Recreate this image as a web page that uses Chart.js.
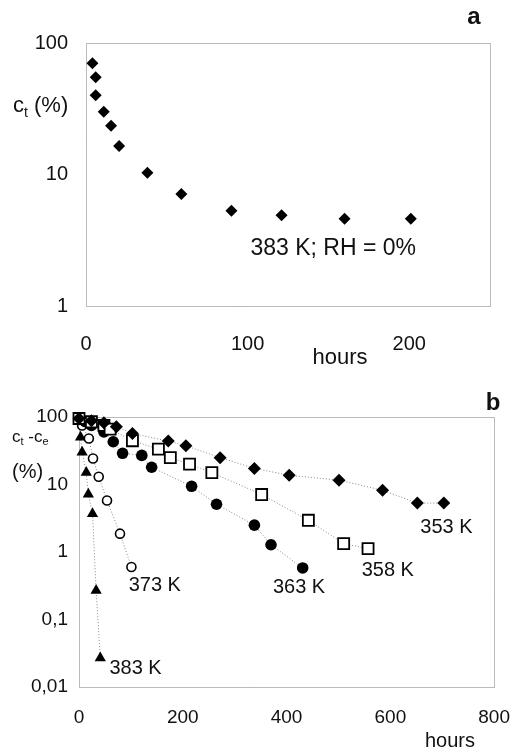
<!DOCTYPE html>
<html>
<head>
<meta charset="utf-8">
<script src="https://cdn.jsdelivr.net/npm/chart.js@4/dist/chart.umd.min.js"></script>
<style>
  html, body { margin: 0; padding: 0; background: #fff; }
  #wrap { width: 529px; height: 750px; position: relative; }
  canvas { display: block; }
</style>
</head>
<body>
<div id="wrap">
  <canvas id="chartA" width="529" height="375"></canvas>
  <canvas id="chartB" width="529" height="375"></canvas>
</div>
<script>
// panel a: 383 K, RH = 0%
const hoursA = [4, 6, 6, 11, 15.5, 20.5, 38, 59, 90, 121, 160, 201];
const ctA = [70, 55, 40, 30, 23.5, 16.5, 10.3, 7.1, 5.3, 4.9, 4.6, 4.6];
const xTicksA = [0, 100, 200];
const yTicksA = [1, 10, 100];

// panel b: ct - ce at several temperatures
const h353 = [0, 24, 48, 72, 103, 172, 206, 272, 338, 405, 501, 585, 652, 703];
const c353 = [95, 88, 82, 72, 57, 44, 37.5, 25, 17.3, 13.7, 11.6, 8.2, 5.3, 5.3];
const h358 = [0, 24, 48, 60, 103, 153, 176, 213, 256, 352, 442, 510, 557];
const c358 = [95, 85, 75, 66, 44.5, 33.5, 25, 20, 15, 7.1, 2.95, 1.33, 1.12];
const h363 = [0, 12, 24, 48, 66, 84, 121, 140, 217, 265, 338, 370, 431];
const c363 = [92, 85, 75, 60, 43, 29, 27, 18, 9.4, 5.1, 2.5, 1.28, 0.58];
const h373 = [0, 6, 19, 27, 38, 54, 79, 101];
const c373 = [95, 75, 48, 24.3, 13, 5.8, 1.87, 0.6];
const h383 = [0, 3, 6, 14, 18, 26, 33, 41];
const c383 = [92, 50, 30, 15, 7.2, 3.7, 0.27, 0.027];
const xTicksB = [0, 200, 400, 600, 800];
const yTicksB = [0.01, 0.1, 1, 10, 100];

const FONT = '"Liberation Sans", Arial, sans-serif';
const INK = '#111';

function pts(xs, ys) {
  return xs.map((x, i) => ({ x: x, y: ys[i] }));
}

function fmt(v) {
  return String(v).replace('.', ',');
}

// dotted box round the plot area
const frame = {
  id: 'frame',
  beforeDatasetsDraw(chart) {
    const { ctx, chartArea: a } = chart;
    ctx.save();
    ctx.strokeStyle = '#777';
    ctx.lineWidth = 1;
    ctx.setLineDash([1, 1]);
    ctx.strokeRect(Math.round(a.left) + 0.5, Math.round(a.top) + 0.5, Math.round(a.width), Math.round(a.height));
    ctx.restore();
  }
};

// text with subscripts, parts = [[text, isSub], ...]
function drawRich(ctx, x, y, parts, size) {
  let cx = x;
  parts.forEach(([t, sub]) => {
    const s = sub ? Math.round(size * 0.62) : size;
    ctx.font = s + 'px ' + FONT;
    ctx.fillText(t, cx, sub ? y + size * 0.32 : y);
    cx += ctx.measureText(t).width;
  });
}

// free labels: data ones go through the scales, others sit on the canvas
function notes(list) {
  return {
    id: 'notes',
    afterDraw(chart) {
      const { ctx, scales } = chart;
      ctx.save();
      ctx.fillStyle = INK;
      ctx.textBaseline = 'middle';
      list.forEach(n => {
        if (n.rich) {
          ctx.textAlign = 'left';
          drawRich(ctx, n.px, n.py, n.rich, n.size);
          return;
        }
        ctx.font = (n.bold ? 'bold ' : '') + n.size + 'px ' + FONT;
        ctx.textAlign = 'center';
        const x = n.px !== undefined ? n.px : scales.x.getPixelForValue(n.x);
        const y = n.py !== undefined ? n.py : scales.y.getPixelForValue(n.y);
        ctx.fillText(n.text, x, y);
      });
      ctx.restore();
    }
  };
}

function axes(xMin, xMax, xTicks, yMin, yMax, yTicks, box) {
  return {
    x: {
      type: 'linear',
      min: xMin,
      max: xMax,
      grid: { display: false, drawTicks: false },
      border: { display: false },
      afterBuildTicks: s => { s.ticks = xTicks.map(v => ({ value: v })); },
      afterFit: s => { s.height = box.xh; },
      ticks: { color: INK, padding: box.xpad, font: { family: FONT, size: box.fs }, maxRotation: 0 }
    },
    y: {
      type: 'logarithmic',
      min: yMin,
      max: yMax,
      grid: { display: false, drawTicks: false },
      border: { display: false },
      afterBuildTicks: s => { s.ticks = yTicks.map(v => ({ value: v })); },
      afterFit: s => { s.width = box.yw; },
      ticks: { color: INK, padding: box.ypad, font: { family: FONT, size: box.fs }, callback: v => fmt(v) }
    }
  };
}

Chart.defaults.animation = false;

new Chart(document.getElementById('chartA'), {
  type: 'scatter',
  data: {
    datasets: [{
      label: '383 K',
      data: pts(hoursA, ctA),
      pointStyle: 'rectRot',
      pointRadius: 6,
      backgroundColor: '#000',
      borderColor: '#000',
      borderWidth: 0,
      clip: false
    }]
  },
  options: {
    responsive: false,
    layout: { padding: { top: 43, right: 39, bottom: 0, left: 0 } },
    plugins: { legend: { display: false }, tooltip: { enabled: false } },
    scales: axes(0, 250, xTicksA, 1, 100, yTicksA, { xh: 69, yw: 86, xpad: 26, ypad: 18, fs: 20 })
  },
  plugins: [frame, notes([
    { text: '383 K; RH = 0%', x: 153, y: 2.72, size: 23 },
    { text: 'hours', px: 340, py: 358, size: 22 },
    { text: 'a', px: 474, py: 17, size: 24, bold: true },
    { rich: [['c', false], ['t', true], [' (%)', false]], px: 13, py: 106, size: 22 }
  ])]
});

const line = { showLine: true, borderColor: '#888', borderWidth: 1, borderDash: [1, 2], clip: false };
const mark = (style, r, fill, bw) => ({
  pointStyle: style,
  pointRadius: r,
  pointBackgroundColor: fill,
  pointBorderColor: '#000',
  pointBorderWidth: bw
});

new Chart(document.getElementById('chartB'), {
  type: 'scatter',
  data: {
    datasets: [
      { label: '353 K', data: pts(h353, c353), ...line, ...mark('rectRot', 6.5, '#000', 0) },
      { label: '358 K', data: pts(h358, c358), ...line, ...mark('rect', 7.8, '#fff', 1.8) },
      { label: '363 K', data: pts(h363, c363), ...line, ...mark('circle', 5.8, '#000', 0) },
      { label: '373 K', data: pts(h373, c373), ...line, ...mark('circle', 4.5, '#fff', 1.6) },
      { label: '383 K', data: pts(h383, c383), ...line, ...mark('triangle', 6.5, '#000', 0) }
    ]
  },
  options: {
    responsive: false,
    layout: { padding: { top: 42, right: 27, bottom: 0, left: 0 } },
    plugins: { legend: { display: false }, tooltip: { enabled: false } },
    scales: axes(0, 800, xTicksB, 0.01, 100, yTicksB, { xh: 63, yw: 79, xpad: 19, ypad: 11, fs: 19 })
  },
  plugins: [frame, notes([
    { text: '353 K', x: 708, y: 2.34, size: 20 },
    { text: '358 K', x: 595, y: 0.53, size: 20 },
    { text: '363 K', x: 424, y: 0.30, size: 20 },
    { text: '373 K', x: 146, y: 0.32, size: 20 },
    { text: '383 K', x: 109, y: 0.0186, size: 20 },
    { text: 'hours', px: 450, py: 366, size: 20 },
    { text: 'b', px: 493, py: 28, size: 24, bold: true },
    { rich: [['c', false], ['t', true], [' -c', false], ['e', true]], px: 12, py: 62, size: 17 },
    { rich: [['(%)', false]], px: 12, py: 97, size: 20 }
  ])]
});
</script>
</body>
</html>
